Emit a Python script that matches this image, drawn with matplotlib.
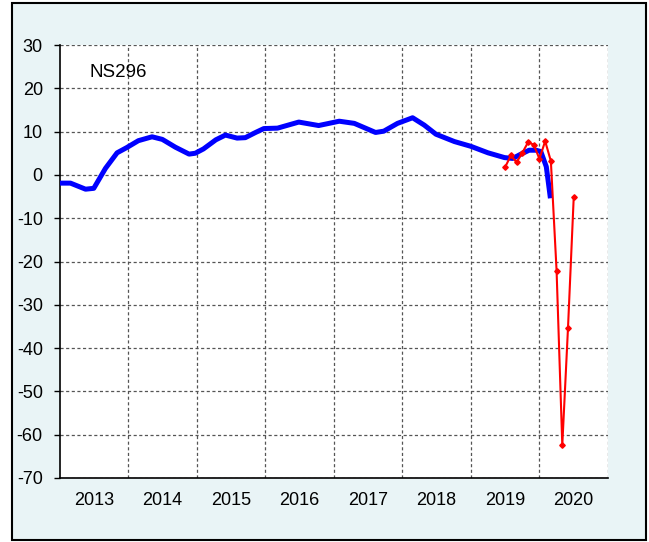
import matplotlib
matplotlib.use("Agg")
import matplotlib.pyplot as plt
from matplotlib.patches import Rectangle

plt.rcParams['font.family'] = ['Liberation Sans', 'DejaVu Sans']

# Blue series (decimal year, value)
blue_t = [2013.00, 2013.16, 2013.38, 2013.50, 2013.67, 2013.84, 2013.98, 2014.15,
          2014.35, 2014.50, 2014.69, 2014.89, 2014.98, 2015.10, 2015.28, 2015.42,
          2015.59, 2015.71, 2015.86, 2015.98, 2016.18, 2016.49, 2016.78, 2017.08,
          2017.30, 2017.61, 2017.73, 2017.93, 2018.15, 2018.32, 2018.49, 2018.76,
          2019.00, 2019.25, 2019.49, 2019.61, 2019.73, 2019.85, 2019.95, 2020.02,
          2020.10, 2020.16]
blue_v = [-1.9, -1.9, -3.3, -3.1, 1.5, 5.1, 6.3, 7.9,
          8.8, 8.2, 6.4, 4.8, 5.0, 6.0, 8.1, 9.2,
          8.5, 8.6, 9.8, 10.7, 10.8, 12.2, 11.4, 12.4,
          11.9, 9.8, 10.1, 11.9, 13.2, 11.5, 9.4, 7.7,
          6.6, 5.1, 4.0, 3.8, 4.8, 5.7, 5.7, 5.4,
          1.9, -5.4]

# Red series (monthly)
red_months = ['2019-07', '2019-08', '2019-09', '2019-10', '2019-11', '2019-12',
              '2020-01', '2020-02', '2020-03', '2020-04', '2020-05', '2020-06', '2020-07']
red_v = [1.8, 4.5, 2.9, 5.1, 7.5, 7.0, 3.7, 7.8, 3.2, -22.1, -62.4, -35.3, -5.2]

def to_dec(s):
    y, m = s.split('-')
    return int(y) + (int(m) - 1) / 12.0

red_t = [to_dec(s) for s in red_months]

years = [2013, 2014, 2015, 2016, 2017, 2018, 2019, 2020]
yticks = [-70, -60, -50, -40, -30, -20, -10, 0, 10, 20, 30]
label = 'NS296'

W, H = 649, 542
fig = plt.figure(figsize=(W / 100, H / 100), dpi=100)
fig.patch.set_facecolor('white')
fig.patches.append(Rectangle((12 / W, (H - 540) / H), (646 - 12) / W, (540 - 3) / H,
                             transform=fig.transFigure, facecolor='#e9f4f6',
                             edgecolor='black', linewidth=1.5, zorder=-5))

ax = fig.add_axes([59.5 / W, (H - 478) / H, (608 - 59.5) / W, (478 - 45) / H])
ax.set_zorder(2)
ax.set_facecolor('white')

ax.plot(blue_t, blue_v, color='#0000ff', lw=3.6, solid_capstyle='butt',
        solid_joinstyle='round', zorder=3)
ax.plot(red_t, red_v, color='#ff0000', lw=1.5, marker='D', ms=2.8, zorder=4)

ax.set_xlim(2013, 2021)
ax.set_ylim(-70, 30)
ax.set_xticks([y for y in years[1:]] + [2021])
ax.set_xticklabels([])
ax.set_xticks([y + 0.5 for y in years], minor=True)
ax.set_xticklabels([str(y) for y in years], minor=True)
ax.set_yticks(yticks)
ax.set_yticklabels([str(v) for v in yticks])

ax.tick_params(axis='x', which='both', length=0, labelsize=13, pad=10)
ax.tick_params(axis='y', length=4.5, width=1, labelsize=13, pad=7.5, direction='out')

ax.grid(True, which='major', axis='both', color='#555555', lw=0.9,
        linestyle=(0, (2.5, 2)))
ax.set_axisbelow(True)

for s in ['top', 'right']:
    ax.spines[s].set_visible(False)
for s in ['left', 'bottom']:
    ax.spines[s].set_linewidth(1.2)
    ax.spines[s].set_color('black')

ax.text(0.055, 0.955, label, transform=ax.transAxes, fontsize=13.5,
        ha='left', va='top')

fig.savefig('out.png', dpi=100, facecolor=fig.get_facecolor())
